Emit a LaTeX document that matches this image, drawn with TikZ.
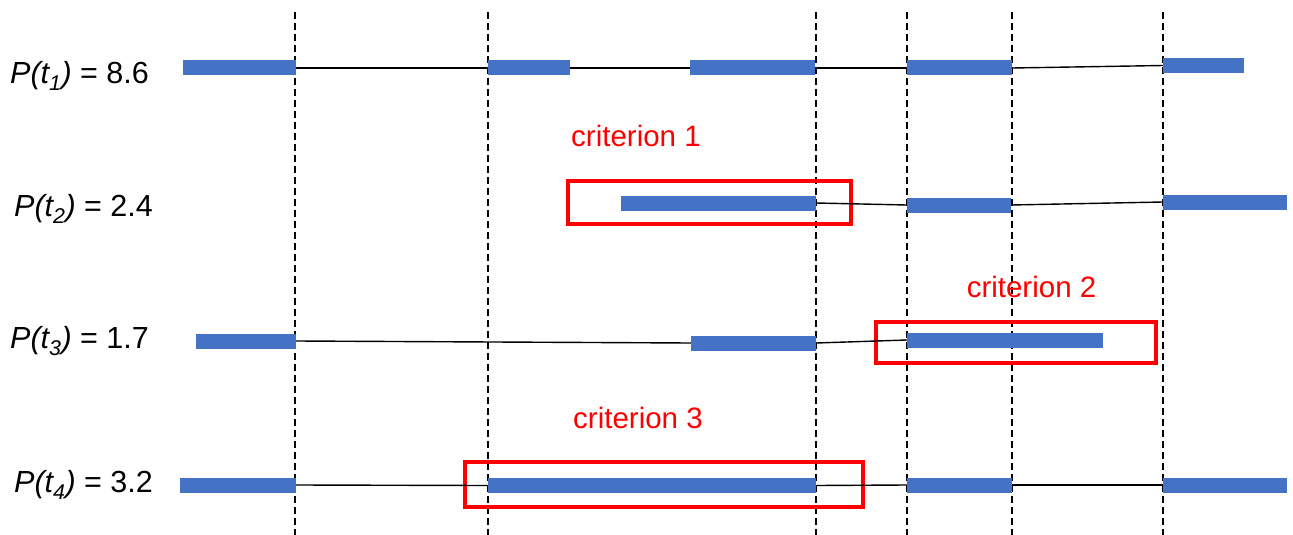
\documentclass[tikz,border=0pt]{standalone}
\usepackage{fontspec}
\setmainfont{Liberation Sans}
\definecolor{barblue}{HTML}{4472C4}
\definecolor{critred}{HTML}{FF0000}
\tikzset{
  bar/.style={fill=barblue, draw=none, inner sep=0pt, minimum height=15pt},
  link/.style={draw=black, line width=1.4pt},
  guide/.style={draw=black, line width=1.6pt, dash pattern=on 7pt off 4pt},
  critbox/.style={draw=critred, line width=4pt, inner sep=0pt, fill=none},
  crittext/.style={text=critred, font=\fontsize{29.5}{34}\selectfont, inner sep=0pt},
  rowlabel/.style={anchor=west, font=\fontsize{30.5}{36}\selectfont, inner sep=0pt}
}
\newcommand{\plabel}[2]{\textit{P(t\textsubscript{#1})} = #2}
\begin{document}
\begin{tikzpicture}[x=1pt,y=-1pt]
\useasboundingbox (0,0) rectangle (1293,535);
% dashed guides
\foreach \gx/\gn in {295/g1,488/g2,816/g3,907/g4,1012/g5,1163/g6}{
  \coordinate (\gn t) at (\gx,12);
  \coordinate (\gn b) at (\gx,535);
  \draw[guide] (\gn t) -- (\gn b);
}
% row labels
\node[rowlabel] (l1) at (10,76) {\plabel{1}{8.6}};
\node[rowlabel] (l2) at (14,209) {\plabel{2}{2.4}};
\node[rowlabel] (l3) at (10,341) {\plabel{3}{1.7}};
\node[rowlabel] (l4) at (14,485) {\plabel{4}{3.2}};
% red boxes (behind bars)
\node[critbox, minimum width=283pt, minimum height=43pt] (c1) at (709,202) {};
\node[critbox, minimum width=280pt, minimum height=41pt] (c2) at (1015.5,342) {};
\node[critbox, minimum width=398pt, minimum height=45pt] (c3) at (663.5,484) {};
% row 1
\node[bar, minimum width=113pt] (b11) at (239.5,68) {};
\node[bar, minimum width=82pt]  (b12) at (529,68) {};
\node[bar, minimum width=125pt] (b13) at (752.5,68) {};
\node[bar, minimum width=105pt] (b14) at (959.5,68) {};
\node[bar, minimum width=81pt]  (b15) at (1203.5,65.5) {};
\draw[link] (b11.east) -- (b12.west);
\draw[link] (b12.east) -- (b13.west);
\draw[link] (b13.east) -- (b14.west);
\draw[link] (b14.east) -- (b15.west);
% row 2
\node[bar, minimum width=195pt] (b21) at (718.5,203) {};
\node[bar, minimum width=104pt] (b22) at (959,205) {};
\node[bar, minimum width=124pt] (b23) at (1225,202) {};
\draw[link] (b21.east) -- (b22.west);
\draw[link] (b22.east) -- (b23.west);
% row 3
\node[bar, minimum width=100pt] (b31) at (246,341) {};
\node[bar, minimum width=125pt] (b32) at (753.5,343) {};
\node[bar, minimum width=196pt] (b33) at (1005,340) {};
\draw[link] (b31.east) -- (b32.west);
\draw[link] (b32.east) -- (b33.west);
% row 4
\node[bar, minimum width=116pt] (b41) at (238,485) {};
\node[bar, minimum width=328pt] (b42) at (652,485.5) {};
\node[bar, minimum width=105pt] (b43) at (959.5,485) {};
\node[bar, minimum width=124pt] (b44) at (1225,485) {};
\draw[link] (b41.east) -- (b42.west);
\draw[link] (b42.east) -- (b43.west);
\draw[link] (b43.east) -- (b44.west);
% criterion labels
\node[crittext] (t1) at (636,136) {criterion 1};
\node[crittext] (t2) at (1031.5,287) {criterion 2};
\node[crittext] (t3) at (638,418) {criterion 3};
\end{tikzpicture}
\end{document}
